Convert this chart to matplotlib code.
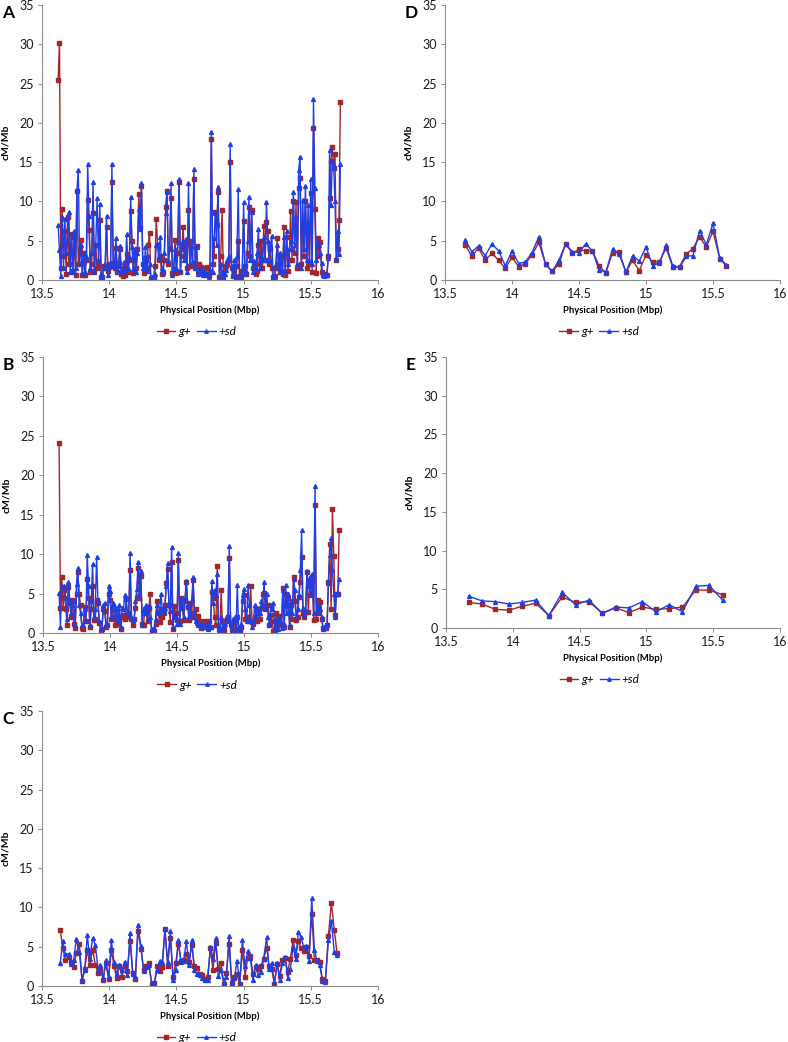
import matplotlib.pyplot as plt

plt.rcParams['font.family'] = ['Lato', 'DejaVu Sans']

RED = '#A3262A'
BLUE = '#1F3FE6'

# panel A: positions (Mbp) and rates (cM/Mb)
a_pos = [13.62, 13.63, 13.64, 13.65, 13.66, 13.67, 13.68, 13.69, 13.70, 13.71,
         13.72, 13.73, 13.74, 13.75, 13.76, 13.77, 13.78, 13.79, 13.80, 13.81,
         13.82, 13.83, 13.84, 13.85, 13.86, 13.87, 13.88, 13.89, 13.90, 13.91,
         13.92, 13.93, 13.94, 13.95, 13.96, 13.97, 13.98, 13.99, 14.00, 14.01,
         14.02, 14.03, 14.04, 14.05, 14.06, 14.07, 14.08, 14.09, 14.10, 14.11,
         14.12, 14.13, 14.14, 14.15, 14.16, 14.17, 14.18, 14.19, 14.20, 14.21,
         14.22, 14.23, 14.24, 14.25, 14.26, 14.27, 14.28, 14.29, 14.30, 14.31,
         14.32, 14.33, 14.34, 14.35, 14.36, 14.37, 14.38, 14.39, 14.40, 14.41,
         14.42, 14.43, 14.44, 14.45, 14.46, 14.47, 14.48, 14.49, 14.50, 14.51,
         14.52, 14.53, 14.54, 14.55, 14.56, 14.57, 14.58, 14.59, 14.60, 14.61,
         14.62, 14.63, 14.64, 14.65, 14.66, 14.67, 14.68, 14.69, 14.70, 14.71,
         14.72, 14.73, 14.74, 14.75, 14.76, 14.77, 14.78, 14.79, 14.80, 14.81,
         14.82, 14.83, 14.84, 14.85, 14.86, 14.87, 14.88, 14.89, 14.90, 14.91,
         14.92, 14.93, 14.94, 14.95, 14.96, 14.97, 14.98, 14.99, 15.00, 15.01,
         15.02, 15.03, 15.04, 15.05, 15.06, 15.07, 15.08, 15.09, 15.10, 15.11,
         15.12, 15.13, 15.14, 15.15, 15.16, 15.17, 15.18, 15.19, 15.20, 15.21,
         15.22, 15.23, 15.24, 15.25, 15.26, 15.27, 15.28, 15.29, 15.30, 15.31,
         15.32, 15.33, 15.34, 15.35, 15.36, 15.37, 15.38, 15.39, 15.40, 15.41,
         15.42, 15.43, 15.44, 15.45, 15.46, 15.47, 15.48, 15.49, 15.50, 15.51,
         15.52, 15.53, 15.54, 15.55, 15.56, 15.57, 15.58, 15.59, 15.60, 15.61,
         15.62, 15.63, 15.64, 15.65, 15.66, 15.67, 15.68, 15.69, 15.70, 15.71,
         15.72]
a_g = [25.5, 30.2, 1.5, 9.0, 3.0, 6.3, 0.8, 8.0, 2.0, 3.5,
       5.8, 1.2, 5.5, 0.6, 11.3, 2.0, 4.0, 5.1, 0.6, 3.5,
       0.6, 2.5, 10.2, 6.4, 1.0, 2.0, 8.5, 1.2, 4.5, 1.5,
       2.0, 7.7, 0.3, 0.4, 1.8, 1.5, 6.8, 1.2, 2.0, 1.8,
       12.5, 2.2, 1.5, 4.1, 1.0, 2.2, 4.0, 0.8, 0.5, 1.5,
       0.6, 3.3, 1.0, 2.5, 8.8, 5.0, 0.9, 3.5, 1.5, 4.0,
       11.0, 6.8, 12.0, 2.0, 0.9, 2.8, 1.4, 4.5, 6.0, 0.2,
       0.2, 0.3, 1.8, 7.8, 4.5, 2.5, 3.0, 0.8, 1.0, 2.5,
       9.3, 11.3, 2.1, 4.0, 10.5, 0.9, 1.2, 5.1, 0.9, 3.5,
       12.5, 1.0, 4.0, 6.7, 3.0, 4.6, 1.5, 8.9, 1.8, 5.0,
       1.8, 12.8, 2.0, 4.3, 1.0, 2.0, 1.6, 1.2, 1.0, 0.8,
       1.5, 1.7, 0.5, 1.0, 17.9, 2.0, 3.0, 8.7, 7.0, 11.2,
       0.4, 3.1, 8.9, 0.4, 1.5, 1.8, 2.0, 2.5, 15.0, 1.5,
       0.5, 1.0, 0.4, 1.8, 5.0, 0.5, 0.4, 1.1, 7.5, 1.8,
       0.8, 3.5, 9.3, 3.0, 8.9, 1.5, 1.8, 0.8, 1.2, 4.5,
       2.0, 5.0, 1.5, 6.9, 2.5, 7.4, 6.2, 2.0, 4.0, 1.5,
       0.4, 0.5, 1.5, 5.3, 2.0, 1.0, 3.0, 0.8, 6.7, 0.7,
       5.5, 1.2, 2.5, 8.8, 2.5, 10.1, 3.5, 9.9, 1.5, 11.7,
       13.0, 2.0, 6.8, 3.0, 10.1, 1.5, 7.0, 2.0, 11.1, 1.0,
       19.4, 9.1, 0.9, 5.4, 3.0, 4.8, 1.0, 0.8, 0.8, 0.7,
       0.7, 3.0, 10.5, 15.2, 16.9, 14.3, 16.0, 2.5, 4.0, 7.6,
       22.7]
a_sd = [7.0, 3.8, 0.5, 8.0, 1.5, 7.8, 3.5, 5.0, 8.6, 1.0,
        5.5, 1.0, 6.2, 1.5, 11.5, 14.0, 2.2, 4.5, 0.9, 3.3,
        1.0, 3.0, 14.8, 8.2, 1.5, 3.5, 12.5, 1.0, 4.5, 10.4,
        2.5, 9.7, 0.8, 0.5, 1.5, 2.0, 8.2, 0.6, 1.6, 2.0,
        14.8, 1.8, 2.2, 5.3, 1.3, 1.8, 4.3, 1.0, 1.2, 2.3,
        1.2, 5.8, 1.5, 3.0, 10.6, 4.2, 1.4, 4.0, 1.0, 3.5,
        9.0, 6.5, 12.3, 1.5, 1.5, 4.2, 1.2, 3.0, 2.0, 0.3,
        0.4, 0.5, 0.8, 4.5, 4.6, 3.0, 5.5, 1.5, 0.9, 3.5,
        8.5, 11.2, 2.5, 4.2, 12.3, 0.6, 1.5, 4.0, 1.5, 4.8,
        12.8, 1.2, 4.5, 5.0, 2.5, 5.2, 1.0, 12.4, 2.2, 4.3,
        2.3, 14.1, 1.5, 4.2, 0.8, 1.2, 0.9, 1.5, 0.7, 1.0,
        0.6, 0.8, 0.3, 1.3, 18.9, 1.0, 5.3, 8.5, 4.5, 11.9,
        0.3, 2.0, 1.0, 0.3, 0.8, 1.3, 2.5, 3.0, 17.3, 1.8,
        0.6, 2.5, 0.5, 3.0, 11.6, 0.4, 0.3, 0.8, 9.9, 1.0,
        1.2, 5.0, 10.6, 2.5, 8.7, 1.0, 2.4, 1.5, 3.5, 6.5,
        1.5, 3.0, 2.5, 5.5, 2.5, 9.9, 5.0, 2.5, 4.5, 5.6,
        0.3, 0.4, 2.0, 4.5, 1.5, 3.5, 1.0, 1.2, 5.5, 1.2,
        6.2, 2.0, 4.0, 5.0, 4.0, 11.2, 4.5, 8.0, 2.0, 14.0,
        15.7, 1.5, 10.2, 4.0, 12.0, 2.5, 9.5, 2.5, 12.8, 2.0,
        23.0, 11.7, 2.5, 4.8, 4.5, 3.5, 2.2, 0.6, 0.5, 0.6,
        0.7, 2.8, 16.5, 9.5, 15.2, 14.5, 10.0, 2.8, 6.3, 3.3,
        14.8]

# panel B
b_pos = a_pos[:-1]
b_g = [24.1, 3.2, 7.1, 3.2, 5.5, 3.1, 1.0, 5.8, 3.8, 2.0,
       4.2, 1.2, 0.6, 4.9, 7.7, 4.9, 3.5, 0.6, 0.5, 3.3,
       1.5, 6.8, 4.4, 0.8, 3.0, 6.0, 1.6, 1.8, 4.2, 3.8,
       1.3, 0.3, 0.5, 3.1, 2.8, 0.8, 1.0, 5.0, 4.2, 1.8,
       3.2, 2.0, 1.0, 1.5, 1.2, 2.0, 0.5, 2.0, 2.3, 1.8,
       4.3, 2.0, 2.5, 8.0, 1.8, 1.0, 1.8, 3.2, 4.5, 8.3,
       4.5, 7.2, 1.2, 1.0, 3.0, 2.5, 1.5, 3.2, 4.9, 0.3,
       0.1, 0.2, 1.2, 4.1, 2.5, 1.4, 3.0, 2.0, 2.5, 3.5,
       6.4, 8.1, 3.5, 1.4, 9.0, 0.5, 3.4, 2.5, 1.6, 9.2,
       1.5, 4.5, 3.2, 1.7, 4.0, 6.5, 3.3, 1.6, 3.8, 2.0,
       6.7, 2.5, 3.0, 1.5, 2.2, 1.5, 0.6, 0.8, 1.0, 1.5,
       0.9, 0.6, 1.5, 0.8, 5.2, 4.5, 2.0, 1.0, 8.5, 0.5,
       0.4, 5.4, 0.4, 0.4, 1.5, 1.8, 2.0, 9.5, 1.2, 0.5,
       0.4, 1.5, 0.4, 2.0, 0.5, 0.4, 0.8, 4.0, 4.8, 1.8,
       2.0, 2.0, 1.5, 5.9, 1.4, 1.2, 2.0, 3.1, 1.5, 3.1,
       1.8, 3.2, 5.0, 5.1, 3.3, 3.5, 3.5, 1.0, 2.3, 1.5,
       0.3, 0.5, 2.5, 1.0, 2.2, 1.2, 1.0, 5.7, 0.8, 5.0,
       3.5, 4.5, 0.8, 3.5, 1.8, 7.1, 4.0, 1.7, 2.0, 4.6,
       6.5, 9.6, 2.5, 2.0, 2.6, 7.7, 2.6, 6.3, 5.0, 6.6,
       1.7, 16.2, 1.8, 4.2, 2.5, 3.9, 1.8, 0.6, 0.6, 0.6,
       1.0, 6.5, 11.3, 3.0, 15.7, 9.8, 2.3, 5.0, 5.0, 13.0]
b_sd = [5.1, 0.8, 6.0, 5.8, 6.0, 4.5, 1.8, 6.5, 4.0, 2.5,
        3.5, 4.0, 1.0, 6.2, 8.3, 3.5, 2.5, 1.0, 1.0, 3.0,
        1.5, 9.9, 5.9, 1.0, 4.0, 8.8, 2.0, 3.0, 9.7, 4.1,
        1.5, 0.5, 0.5, 3.5, 3.8, 1.0, 1.2, 6.0, 5.3, 2.0,
        3.8, 3.5, 2.0, 3.0, 1.5, 3.5, 0.8, 3.2, 3.0, 4.8,
        4.5, 2.5, 2.5, 10.2, 2.0, 1.6, 1.8, 4.0, 5.6, 9.0,
        5.0, 7.8, 1.0, 3.0, 2.5, 3.5, 1.8, 3.4, 2.0, 0.5,
        0.3, 0.6, 1.8, 3.5, 2.5, 2.5, 5.0, 3.0, 2.8, 3.2,
        6.0, 8.9, 3.5, 2.8, 10.9, 0.8, 2.2, 2.0, 1.2, 10.1,
        1.2, 4.3, 3.5, 2.0, 4.5, 6.6, 3.5, 2.2, 2.5, 4.2,
        7.1, 2.0, 1.5, 1.3, 1.0, 1.2, 0.7, 0.9, 0.8, 0.9,
        1.2, 0.5, 1.0, 0.7, 6.6, 3.8, 5.5, 4.8, 7.5, 0.3,
        0.5, 2.0, 0.6, 1.0, 1.2, 2.0, 1.5, 11.0, 1.0, 0.4,
        1.8, 2.0, 0.5, 6.1, 0.4, 0.5, 1.2, 4.8, 5.6, 3.0,
        1.5, 6.1, 3.5, 1.5, 0.8, 1.5, 3.5, 2.0, 3.0, 2.5,
        2.5, 4.0, 3.5, 6.5, 3.0, 5.0, 2.0, 1.2, 3.5, 3.0,
        3.8, 0.3, 1.5, 0.5, 2.0, 1.5, 0.6, 5.5, 1.2, 6.1,
        2.5, 5.0, 1.0, 4.0, 2.5, 6.8, 5.5, 2.0, 3.0, 4.8,
        8.0, 13.0, 3.2, 2.3, 2.8, 7.8, 6.0, 7.1, 4.8, 7.5,
        2.5, 18.7, 2.5, 3.0, 3.5, 3.0, 2.0, 0.5, 0.7, 0.8,
        1.2, 6.3, 9.9, 12.0, 8.0, 5.0, 2.0, 5.0, 5.0, 6.9]

# panel C
c_pos = [13.636, 13.654, 13.674, 13.700, 13.716, 13.736, 13.755, 13.778, 13.798, 13.818,
         13.837, 13.855, 13.877, 13.897, 13.917, 13.934, 13.956, 13.974, 13.996, 14.016,
         14.036, 14.056, 14.075, 14.095, 14.115, 14.135, 14.155, 14.175, 14.195, 14.214,
         14.236, 14.256, 14.276, 14.296, 14.316, 14.336, 14.356, 14.376, 14.395, 14.415,
         14.435, 14.455, 14.475, 14.495, 14.514, 14.534, 14.554, 14.574, 14.594, 14.614,
         14.634, 14.653, 14.673, 14.693, 14.713, 14.733, 14.753, 14.772, 14.792, 14.812,
         14.832, 14.852, 14.872, 14.892, 14.911, 14.931, 14.951, 14.971, 14.991, 15.011,
         15.030, 15.050, 15.070, 15.090, 15.110, 15.130, 15.149, 15.172, 15.189, 15.209,
         15.229, 15.249, 15.268, 15.288, 15.308, 15.328, 15.348, 15.368, 15.388, 15.408,
         15.427, 15.447, 15.467, 15.487, 15.507, 15.527, 15.546, 15.566, 15.586, 15.608,
         15.631, 15.653, 15.675, 15.695]
c_g = [7.1, 4.8, 3.3, 3.7, 3.0, 2.4, 4.2, 5.4, 0.6, 2.2,
       4.6, 2.7, 4.6, 2.7, 1.6, 2.2, 0.8, 2.9, 0.9, 4.6,
       2.5, 1.0, 2.6, 1.2, 2.6, 1.9, 5.7, 1.7, 0.9, 7.0,
       4.7, 2.0, 2.5, 2.9, 0.2, 0.4, 2.5, 1.9, 2.4, 7.2,
       2.5, 6.1, 1.1, 2.9, 5.4, 3.2, 3.3, 4.1, 3.0, 5.2,
       2.5, 2.3, 1.5, 1.4, 0.9, 1.2, 4.8, 2.0, 5.5, 2.2,
       2.9, 0.3, 1.6, 5.4, 0.4, 1.1, 1.5, 0.2, 4.6, 1.2,
       3.6, 3.8, 1.5, 2.4, 2.2, 2.6, 3.5, 4.9, 2.5, 2.2,
       0.2, 2.8, 1.3, 3.3, 3.6, 1.8, 3.5, 5.8, 4.0, 5.7,
       4.8, 4.5, 5.0, 3.8, 9.2, 3.3, 3.3, 3.0, 0.9, 0.6,
       6.4, 10.6, 7.1, 4.2]
c_sd = [2.9, 5.7, 4.1, 4.1, 2.8, 3.3, 6.0, 4.3, 0.8, 2.0,
        6.5, 3.5, 6.1, 5.2, 2.1, 2.7, 1.0, 3.3, 1.1, 5.8,
        3.0, 1.5, 2.7, 2.0, 3.1, 1.4, 6.7, 1.5, 1.2, 7.8,
        5.1, 1.9, 2.4, 2.7, 0.3, 0.4, 2.0, 3.2, 3.0, 7.2,
        3.0, 7.0, 0.8, 2.0, 5.8, 3.1, 3.2, 5.7, 2.7, 5.8,
        2.0, 1.5, 1.4, 1.0, 0.8, 0.8, 5.0, 3.5, 6.1, 1.3,
        2.0, 0.5, 1.1, 6.4, 0.5, 1.0, 3.2, 0.3, 5.8, 2.5,
        4.4, 3.6, 0.8, 2.7, 1.4, 1.8, 3.5, 6.2, 2.2, 2.9,
        0.3, 2.9, 0.8, 2.9, 3.7, 1.0, 2.2, 5.0, 3.5, 6.9,
        6.2, 5.0, 5.1, 3.2, 11.2, 4.6, 3.2, 2.7, 0.7, 0.5,
        5.8, 8.3, 4.3, 4.0]

# panel D
d_pos = [13.65, 13.70, 13.75, 13.80, 13.85, 13.90, 13.95, 14.00, 14.05, 14.10,
         14.15, 14.20, 14.25, 14.30, 14.35, 14.40, 14.45, 14.50, 14.55, 14.60,
         14.65, 14.70, 14.75, 14.80, 14.85, 14.90, 14.95, 15.00, 15.05, 15.10,
         15.15, 15.20, 15.25, 15.30, 15.35, 15.40, 15.45, 15.50, 15.55, 15.60]
d_g = [4.5, 3.0, 4.1, 2.5, 3.4, 2.5, 1.5, 2.9, 1.7, 2.1,
       3.2, 4.8, 2.0, 1.1, 2.0, 4.6, 3.4, 3.9, 3.7, 3.7,
       1.8, 0.9, 3.5, 3.6, 1.0, 2.5, 1.2, 3.2, 2.3, 2.3,
       4.1, 1.6, 1.7, 3.3, 4.0, 5.5, 4.2, 6.2, 2.7, 1.8]
d_sd = [5.1, 3.6, 4.3, 3.1, 4.6, 3.7, 1.8, 3.7, 2.1, 2.3,
        3.5, 5.5, 2.0, 1.1, 2.5, 4.6, 3.6, 3.5, 4.6, 3.7,
        1.3, 1.0, 3.9, 3.3, 1.0, 3.1, 2.4, 4.2, 1.8, 2.2,
        4.4, 1.8, 1.6, 3.0, 3.1, 6.3, 4.5, 7.2, 2.8, 1.9]

# panel E
e_pos = [13.67, 13.77, 13.87, 13.97, 14.07, 14.17, 14.27, 14.37, 14.47, 14.57,
         14.67, 14.77, 14.87, 14.97, 15.07, 15.17, 15.27, 15.37, 15.47, 15.57]
e_g = [3.3, 3.1, 2.4, 2.3, 2.8, 3.2, 1.6, 4.0, 3.3, 3.4,
       1.9, 2.6, 2.0, 2.7, 2.4, 2.5, 2.7, 4.9, 4.9, 4.3]
e_sd = [4.1, 3.5, 3.4, 3.1, 3.3, 3.6, 1.6, 4.6, 3.0, 3.6,
        1.9, 2.7, 2.6, 3.4, 2.1, 3.0, 2.1, 5.4, 5.5, 3.6]

x_ticks = [13.5, 14, 14.5, 15, 15.5, 16]
x_tick_labels = ['13.5', '14', '14.5', '15', '15.5', '16']
y_ticks = [0, 5, 10, 15, 20, 25, 30, 35]

W, H = 788, 1042
fig = plt.figure(figsize=(W / 100, H / 100), dpi=100)


def panel(rect, letter, pos, g, sd):
    left, top, right, bottom = rect
    ax = fig.add_axes([left / W, 1 - bottom / H, (right - left) / W, (bottom - top) / H])
    ax.plot(pos, g, color=RED, lw=1.0, marker='s', ms=2.6, label='g+')
    ax.plot(pos, sd, color=BLUE, lw=1.0, marker='^', ms=2.8, label='+sd')
    ax.set_xlim(13.5, 16)
    ax.set_ylim(0, 35)
    ax.set_xticks(x_ticks)
    ax.set_xticklabels(x_tick_labels)
    ax.set_yticks(y_ticks)
    for s in ['top', 'right']:
        ax.spines[s].set_visible(False)
    for s in ['left', 'bottom']:
        ax.spines[s].set_color('#8c8c8c')
        ax.spines[s].set_linewidth(0.8)
    ax.tick_params(direction='out', length=3, width=0.7, color='#8c8c8c',
                   labelsize=9, labelcolor='#1a1a1a', pad=3)
    ax.set_ylabel('cM/Mb', fontsize=7.5, fontweight='bold')
    ax.yaxis.set_label_coords(-0.095, 0.5)
    ax.set_xlabel('Physical Position (Mbp)', fontsize=6.8, fontweight='bold', labelpad=4)
    leg = ax.legend(loc='upper center', bbox_to_anchor=(0.46, -0.13), ncol=2, frameon=False,
                    fontsize=8.5, handlelength=1.6, columnspacing=0.5, handletextpad=0.25,
                    markerscale=0.9)
    for t in leg.get_texts():
        t.set_fontstyle('italic')
    fig.text((left - 40) / W, 1 - (top + 8) / H, letter, fontsize=12.5, fontweight='bold',
             ha='left', va='center')
    return ax


panel((42, 5, 378, 280), 'A', a_pos, a_g, a_sd)
panel((43, 357, 378, 633), 'B', b_pos, b_g, b_sd)
panel((42, 711, 378, 986), 'C', c_pos, c_g, c_sd)
panel((445, 5, 780, 280), 'D', d_pos, d_g, d_sd)
panel((446, 357, 780, 628), 'E', e_pos, e_g, e_sd)

fig.savefig('out.png', dpi=100)
